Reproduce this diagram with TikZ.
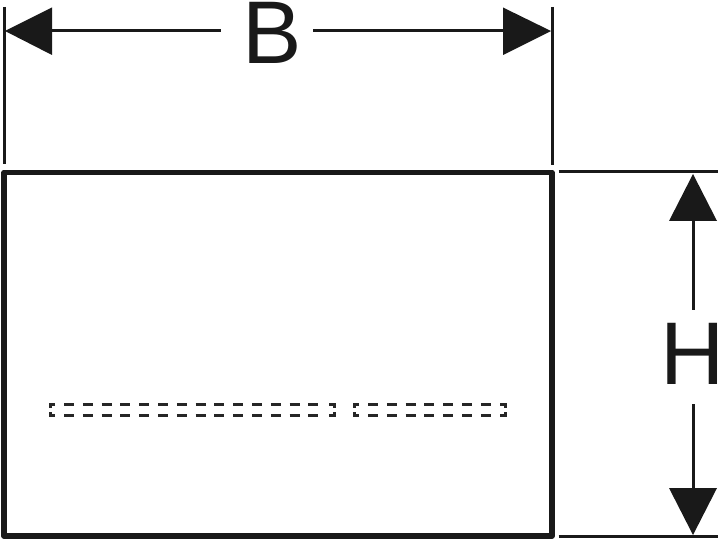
\documentclass[tikz,border=0pt]{standalone}
\usepackage{fontspec}
\setmainfont{Liberation Sans}
\tikzset{
  outline/.style={line width=5.5pt,line join=round,draw=black!90},
  extline/.style={line width=3pt,draw=black!90},
  dimline/.style={line width=3pt,draw=black!90},
  tip/.style={fill=black!90,draw=none},
  hidden/.style={line width=3pt,draw=black!85},
  dimtext/.style={inner sep=0pt,text=black!90,font=\fontsize{89}{89}\selectfont}
}
\begin{document}
\begin{tikzpicture}[x=1pt,y=-1pt]
\useasboundingbox (0,0) rectangle (720,540);
\draw[outline] (4,172.5) rectangle (552,536);
% extension lines
\draw[extline] (4,7) -- (4,164);
\draw[extline] (552,7) -- (552,165);
\draw[extline] (558.5,172) -- (718,172);
\draw[extline] (558.5,536) -- (718,536);
% labels
\node[dimtext] (b) at (272.5,33) {B};
\node[dimtext] (h) at (693,354) {H};
% horizontal dimension
\coordinate (bl) at (52,31);
\coordinate (br) at (503,31);
\fill[tip] (5,31) -- (52,7.5) -- (52,55) -- cycle;
\fill[tip] (551,31) -- (503,7.5) -- (503,55) -- cycle;
\draw[dimline] (bl) -- (221,31);
\draw[dimline] (313,31) -- (br);
% vertical dimension
\coordinate (vt) at (693,221);
\coordinate (vb) at (693,488);
\fill[tip] (693,174) -- (669,221) -- (717,221) -- cycle;
\fill[tip] (693,535) -- (669,488) -- (717,488) -- cycle;
\draw[dimline] (vt) -- (693,310);
\draw[dimline] (693,404) -- (vb);
% hidden slots
\foreach \y in {404.5,415}{
  \foreach \i in {0,...,13}{
    \draw[hidden] ({64+18.8*\i},\y) -- ({74+18.8*\i},\y);
  }
  \foreach \i in {0,...,6}{
    \draw[hidden] ({368+18.8*\i},\y) -- ({378+18.8*\i},\y);
  }
}
\foreach \xa/\xb in {55/50,329/334.5,359/354,500/505.5}{
  \draw[hidden] (\xa,404.5) -- (\xb,404.5) -- (\xb,407.5);
  \draw[hidden] (\xa,415) -- (\xb,415) -- (\xb,412);
}
\end{tikzpicture}
\end{document}
